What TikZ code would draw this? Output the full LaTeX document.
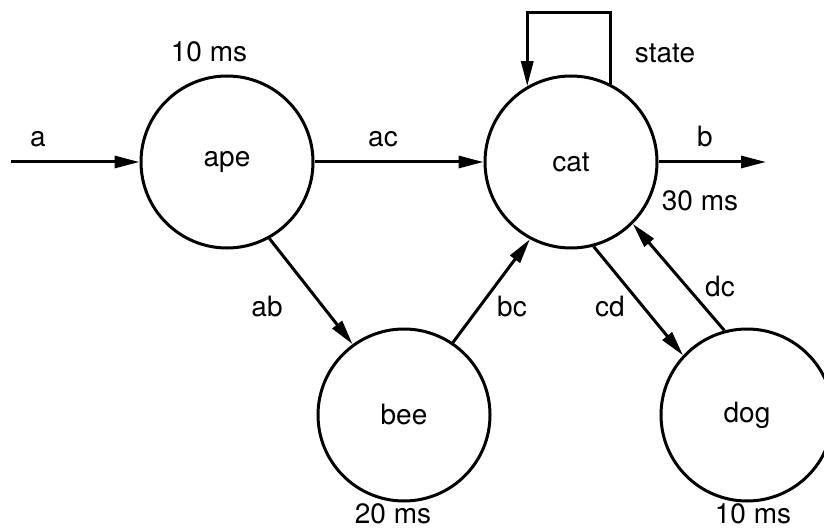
\documentclass[tikz,border=0pt]{standalone}
\usepackage{fontspec}
\setmainfont{TeX Gyre Heros}
\usetikzlibrary{arrows.meta}
\begin{document}
\begin{tikzpicture}[x=1pt,y=-1pt,
  proc/.style={circle,draw,line width=3pt,minimum size=172pt,inner sep=0pt,font=\fontsize{28}{32}\selectfont},
  lbl/.style={font=\fontsize{28}{32}\selectfont,inner sep=0pt},
  flow/.style={line width=3pt,-{Triangle[length=25pt,width=12pt]}}]
\path[use as bounding box] (0,0) rectangle (824,529);
\node[proc] (ape) at (227,162) {ape};
\node[proc] (cat) at (571,162) {cat};
\node[proc] (bee) at (404,415) {bee};
\node[proc] (dog) at (747,415) {dog};
\coordinate (ain) at (11,162);
\coordinate (bout) at (766,162);
\coordinate (stop) at (570,13);
\draw[flow] (ain) -- (ape);
\draw[flow] (ape) -- (cat);
\draw[flow] (cat) -- (bout);
\draw[flow] (ape.-61) -- (bee.126);
\draw[flow] (bee.56) -- (cat.-118);
\draw[flow] (cat.-75) -- (dog.137);
\draw[flow] (dog.105) -- (cat.-45);
\draw[flow] (cat.63) |- (stop) -| (cat.120);
\node[lbl] (la) at (38,139) {a};
\node[lbl] (lac) at (383,139) {ac};
\node[lbl] (lb) at (705,137) {b};
\node[lbl] (lstate) at (665,53) {state};
\node[lbl] (lape) at (209,52) {10 ms};
\node[lbl] (lcat) at (700,201) {30 ms};
\node[lbl] (lab) at (267,307) {ab};
\node[lbl] (lbc) at (512,307) {bc};
\node[lbl] (lcd) at (610,307) {cd};
\node[lbl] (ldc) at (720,287) {dc};
\node[lbl] (lbee) at (393,514) {20 ms};
\node[lbl] (ldog) at (753,514) {10 ms};
\end{tikzpicture}
\end{document}
